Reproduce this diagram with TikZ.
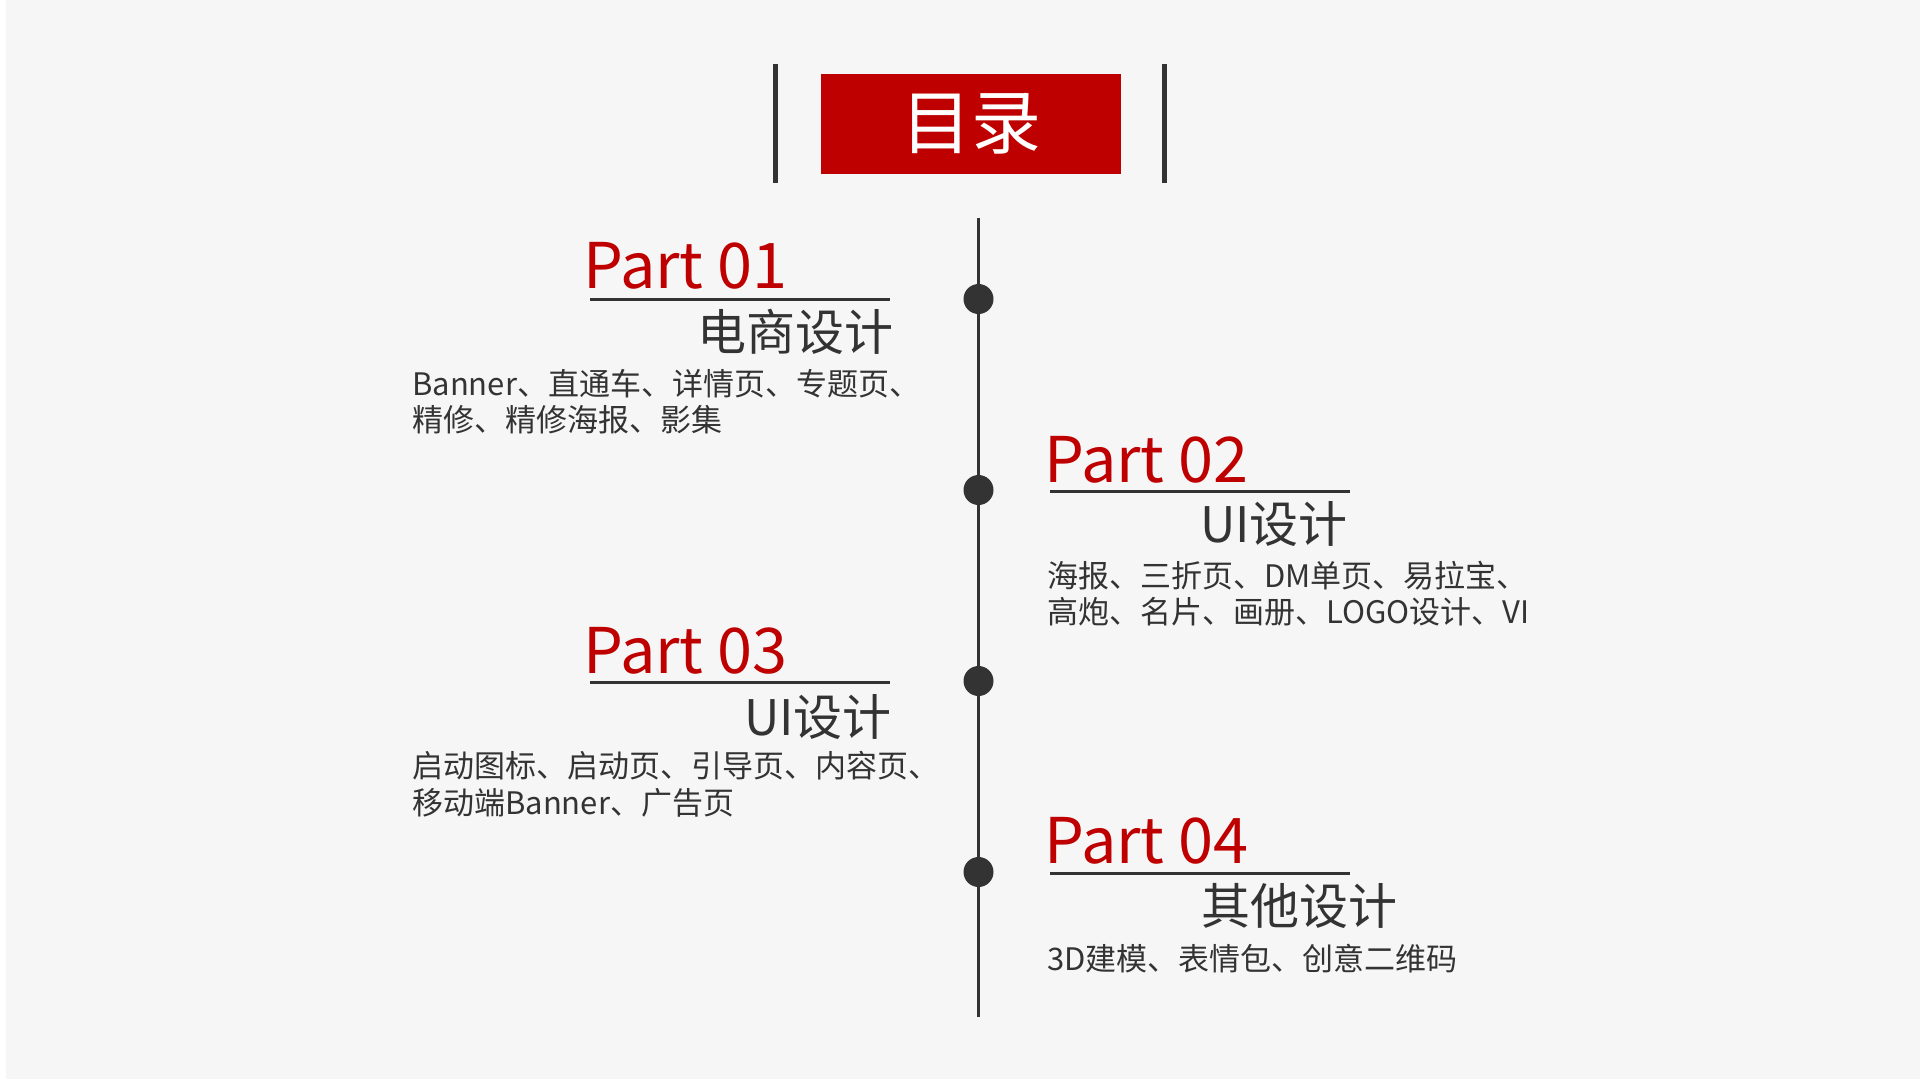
\documentclass[tikz,border=0pt]{standalone}
\usepackage{fontspec}
\setmainfont{Noto Sans CJK SC}
\definecolor{bgc}{HTML}{F6F6F6}
\definecolor{redc}{HTML}{BE0000}
\definecolor{ink}{HTML}{333333}
\definecolor{txt}{HTML}{333333}
\begin{document}
\begin{tikzpicture}[x=1pt,y=-1pt,
  parttxt/.style={inner sep=0pt, anchor=base west, text=redc, font=\fontsize{63}{65}\selectfont},
  titletxt/.style={inner sep=0pt, text=txt, font=\fontsize{49}{51}\selectfont},
  desctxt/.style={inner sep=0pt, anchor=base west, text=txt, font=\fontsize{31}{33}\selectfont},
  tdot/.style={circle, fill=ink, minimum size=30pt, inner sep=0pt},
  uline/.style={draw=ink, line width=3pt},
  sidebar/.style={draw=ink, line width=5pt},
  spine/.style={draw=ink, line width=3.5pt},
]
\fill[white] (0,0) rectangle (1920,1080);
\fill[bgc] (6,0) rectangle (1920,1079);
\useasboundingbox (0,0) rectangle (1920,1080);

% heading
\node[fill=redc, minimum width=300pt, minimum height=100pt, inner sep=0pt, text=white,
      font=\fontsize{70}{72}\selectfont] (title) at (971,124) {目录};
\coordinate (lbt) at (775,64);  \coordinate (lbb) at (775,183);
\coordinate (rbt) at (1164,64); \coordinate (rbb) at (1164,183);
\draw[sidebar] (lbt) -- (lbb);
\draw[sidebar] (rbt) -- (rbb);

% timeline
\coordinate (tltop) at (978.5,218);
\coordinate (tlbot) at (978.5,1017);
\draw[spine] (tltop) -- (tlbot);
\node[tdot] (d1) at (978.5,299) {};
\node[tdot] (d2) at (978.5,490) {};
\node[tdot] (d3) at (978.5,681) {};
\node[tdot] (d4) at (978.5,872) {};

% Part 01
\node[parttxt] (p1) at (583,288) {Part 01};
\coordinate (u1a) at (590,299); \coordinate (u1b) at (890,299);
\draw[uline] (u1a) -- (u1b);
\node[titletxt, anchor=base east] (t1) at (894,350) {电商设计};
\node[desctxt] (e1a) at (412,395) {Banner、直通车、详情页、专题页、};
\node[desctxt] (e1b) at (412,431) {精修、精修海报、影集};

% Part 02
\node[parttxt] (p2) at (1044,482) {Part 02};
\coordinate (u2a) at (1050,491); \coordinate (u2b) at (1350,491);
\draw[uline] (u2a) -- (u2b);
\node[titletxt, anchor=base west] (t2) at (1200,542) {UI设计};
\node[desctxt] (e2a) at (1047,587) {海报、三折页、DM单页、易拉宝、};
\node[desctxt] (e2b) at (1047,623) {高炮、名片、画册、LOGO设计、VI};

% Part 03
\node[parttxt] (p3) at (583,673) {Part 03};
\coordinate (u3a) at (590,682); \coordinate (u3b) at (890,682);
\draw[uline] (u3a) -- (u3b);
\node[titletxt, anchor=base east] (t3) at (892,735) {UI设计};
\node[desctxt] (e3a) at (412,777) {启动图标、启动页、引导页、内容页、};
\node[desctxt] (e3b) at (412,814) {移动端Banner、广告页};

% Part 04
\node[parttxt] (p4) at (1044,863) {Part 04};
\coordinate (u4a) at (1050,873); \coordinate (u4b) at (1350,873);
\draw[uline] (u4a) -- (u4b);
\node[titletxt, anchor=base west] (t4) at (1201,924) {其他设计};
\node[desctxt] (e4a) at (1047,970) {3D建模、表情包、创意二维码};
\end{tikzpicture}
\end{document}
